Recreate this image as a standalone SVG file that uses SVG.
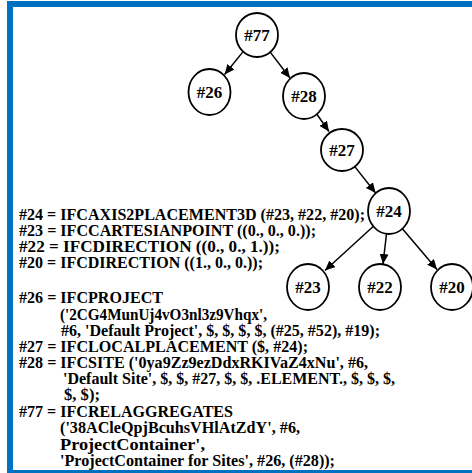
<svg xmlns="http://www.w3.org/2000/svg" width="472" height="473" viewBox="0 0 472 473">
<style>
.node ellipse{fill:#fff;stroke:#000;stroke-width:1.8}
.node text{font-family:"Liberation Serif","Times New Roman",serif;font-weight:bold;font-size:17px;text-anchor:middle;fill:#000}
.edge{stroke:#000;stroke-width:1.5;fill:none;marker-end:url(#ah)}
.code{font-family:"Liberation Serif","Times New Roman",serif;font-weight:bold;font-size:16.5px;fill:#000}
</style>
<defs>
<marker id="ah" markerUnits="userSpaceOnUse" markerWidth="11" markerHeight="9" refX="10" refY="4.5" orient="auto">
<path d="M0,0 L10,4.5 L0,9 z" fill="#000"/>
</marker>
</defs>
<rect x="0" y="0" width="472" height="473" fill="#fff"/>
<rect x="10" y="4" width="500" height="469" fill="none" stroke="#0070C0" stroke-width="6"/>
<g id="connectors">
<line class="edge" x1="242.9" y1="51.9" x2="224.6" y2="74.5"/>
<line class="edge" x1="270.4" y1="52.4" x2="290" y2="78"/>
<line class="edge" x1="316.7" y1="114" x2="329" y2="131.5"/>
<line class="edge" x1="354.8" y1="166.6" x2="375.6" y2="193"/>
<line class="edge" x1="373.7" y1="226" x2="325" y2="270.5"/>
<line class="edge" x1="386.5" y1="233.8" x2="383" y2="264"/>
<line class="edge" x1="402.4" y1="228.7" x2="437" y2="269.5"/>
</g>
<g id="n77" class="node"><ellipse cx="257" cy="35" rx="21" ry="22"/><text x="257" y="41">#77</text></g>
<g id="n26" class="node"><ellipse cx="209.5" cy="92" rx="21" ry="23"/><text x="209.5" y="98">#26</text></g>
<g id="n28" class="node"><ellipse cx="304" cy="96" rx="21" ry="23"/><text x="304" y="102">#28</text></g>
<g id="n27" class="node"><ellipse cx="342" cy="150" rx="21" ry="21"/><text x="342" y="156">#27</text></g>
<g id="n24" class="node"><ellipse cx="389" cy="211" rx="21" ry="23"/><text x="389" y="217">#24</text></g>
<g id="n23" class="node"><ellipse cx="308" cy="287" rx="21" ry="23"/><text x="308" y="293">#23</text></g>
<g id="n22" class="node"><ellipse cx="380" cy="287" rx="21" ry="23"/><text x="380" y="293">#22</text></g>
<g id="n20" class="node"><ellipse cx="452" cy="287" rx="21" ry="23"/><text x="452" y="293">#20</text></g>
<g id="code">
<text class="code" x="19" y="220" textLength="346" lengthAdjust="spacingAndGlyphs">#24 = IFCAXIS2PLACEMENT3D (#23, #22, #20);</text>
<text class="code" x="19" y="236" textLength="297" lengthAdjust="spacingAndGlyphs">#23 = IFCCARTESIANPOINT ((0., 0., 0.));</text>
<text class="code" x="19" y="252" textLength="261" lengthAdjust="spacingAndGlyphs">#22 = IFCDIRECTION ((0., 0., 1.));</text>
<text class="code" x="19" y="268" textLength="244" lengthAdjust="spacingAndGlyphs">#20 = IFCDIRECTION ((1., 0., 0.));</text>
<text class="code" x="19" y="303" textLength="144" lengthAdjust="spacingAndGlyphs">#26 = IFCPROJECT</text>
<text class="code" x="60" y="320" textLength="207" lengthAdjust="spacingAndGlyphs">('2CG4MunUj4vO3nl3z9Vhqx',</text>
<text class="code" x="61" y="336" textLength="319" lengthAdjust="spacingAndGlyphs">#6, 'Default Project', $, $, $, $, (#25, #52), #19);</text>
<text class="code" x="19" y="352" textLength="289" lengthAdjust="spacingAndGlyphs">#27 = IFCLOCALPLACEMENT ($, #24);</text>
<text class="code" x="19" y="368" textLength="349" lengthAdjust="spacingAndGlyphs">#28 = IFCSITE ('0ya9Zz9ezDdxRKIVaZ4xNu', #6,</text>
<text class="code" x="63" y="384" textLength="332" lengthAdjust="spacingAndGlyphs">'Default Site', $, $, #27, $, $, .ELEMENT., $, $, $,</text>
<text class="code" x="64" y="400" textLength="36" lengthAdjust="spacingAndGlyphs">$, $);</text>
<text class="code" x="19" y="417" textLength="214" lengthAdjust="spacingAndGlyphs">#77 = IFCRELAGGREGATES</text>
<text class="code" x="60" y="433" textLength="240" lengthAdjust="spacingAndGlyphs">('38ACleQpjBcuhsVHlAtZdY', #6,</text>
<text class="code" x="60" y="450" textLength="145" lengthAdjust="spacingAndGlyphs">ProjectContainer',</text>
<text class="code" x="60" y="466" textLength="275" lengthAdjust="spacingAndGlyphs">'ProjectContainer for Sites', #26, (#28));</text>
</g>
</svg>
